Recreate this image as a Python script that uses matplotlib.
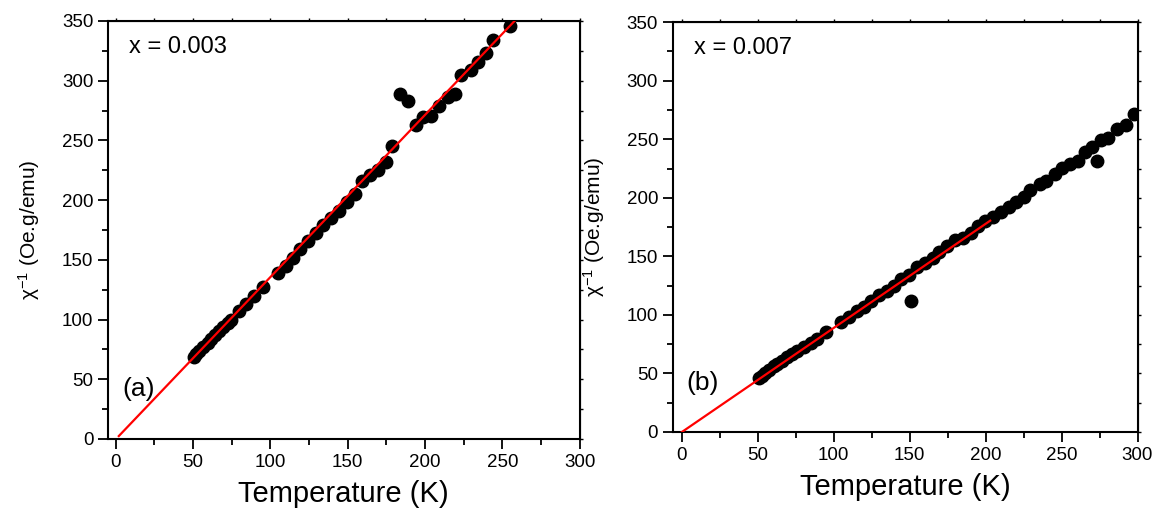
import matplotlib.pyplot as plt
import numpy as np

plt.rcParams['font.family'] = ['Liberation Sans', 'DejaVu Sans']
plt.rcParams['mathtext.default'] = 'regular'

# panel (a): x = 0.003
temp_a = [50.6, 52, 54, 56.4, 59.7, 61.8, 64, 67, 69.3, 72.5, 74.7, 80, 84.3, 89.7, 95,
          105, 110, 114.4, 119.3, 124.5, 129.4, 134, 139.5, 144.4, 149.4, 154.5, 159.4,
          164.4, 169.5, 174.5, 178.8, 184, 189, 194.2, 199, 204, 209, 214.6, 219.5, 223,
          229.8, 234.5, 239.3, 243.8, 255]
chi_a = [68.7, 71, 74, 77, 80.7, 83.4, 86.8, 90.4, 93.8, 97.4, 100, 107, 113, 119.7, 127,
         139, 145, 151.5, 159, 166, 172.8, 179, 185, 191, 198.4, 205.4, 215.7,
         220.8, 225, 232, 245, 289, 282.7, 262.6, 269.6, 270, 278.8, 286, 288.6, 304.5,
         308.7, 316, 323, 333.8, 345.8]
fit_a = {'slope': 1.358, 'intercept': -0.3, 'tmin': 2, 'tmax': 258}

# panel (b): x = 0.007
temp_b = [50.7, 52.9, 55, 57.3, 60.6, 62.8, 66, 69.4, 72.7, 76, 80.4, 84.8, 89.2, 94.7,
          105, 110, 115, 119.6, 124.4, 130, 135, 139.4, 144.3, 149.8, 150.9, 154.8, 160,
          165.2, 169.6, 174.7, 179.5, 185, 190.5, 195, 199.8, 204.8, 210.4, 215.4, 220.3,
          225.3, 229.5, 235.7, 240, 245.6, 250, 255.5, 260.6, 265.4, 270.3, 273.6, 276,
          280.8, 286.3, 292.3, 298]
chi_b = [46, 48, 50.3, 53, 56, 58.3, 61, 64, 66.5, 68.8, 72.2, 76, 79.3, 85.3,
         93.8, 98, 103, 107, 111.5, 117, 120.6, 125, 130.8, 134.2, 112, 141.3, 144,
         148.4, 153.3, 159, 164, 166, 170, 176.3, 180.5, 184, 188.2, 192.5, 196.8,
         201, 206.7, 211.5, 214.4, 220.4, 225.2, 229, 231.5, 239, 243.6, 231.5, 249,
         251.3, 259, 262.4, 272]
fit_b = {'slope': 0.889, 'intercept': 0.0, 'tmin': 0, 'tmax': 203}

panels = [
    dict(T=temp_a, chi=chi_a, fit=fit_a, conc='x = 0.003', tag='(a)',
         rect=[0.0934, 0.141, 0.408, 0.818], xlim=(-5, 300)),
    dict(T=temp_b, chi=chi_b, fit=fit_b, conc='x = 0.007', tag='(b)',
         rect=[0.582, 0.1546, 0.402, 0.802], xlim=(-6, 300)),
]

fig = plt.figure(figsize=(11.56, 5.11), dpi=100)

for p in panels:
    ax = fig.add_axes(p['rect'])
    f = p['fit']
    tt = np.array([f['tmin'], f['tmax']])
    ax.plot(tt, f['slope'] * tt + f['intercept'], color='#ff0000', lw=1.6, zorder=3)
    ax.plot(p['T'], p['chi'], 'o', color='black', ms=9, zorder=2)

    ax.set_xlim(*p['xlim'])
    ax.set_ylim(0, 350)
    ax.set_xticks(np.arange(0, 301, 50))
    ax.set_xticks(np.arange(25, 300, 25), minor=True)
    ax.set_yticks(np.arange(0, 351, 50))
    ax.set_yticks(np.arange(25, 350, 50), minor=True)
    ax.tick_params(which='major', direction='out', length=7, width=1.3, labelsize=13.5)
    ax.tick_params(which='minor', direction='out', length=4, width=1.3)
    for s in ax.spines.values():
        s.set_linewidth(1.5)

    top = ax.secondary_xaxis('top')
    top.set_xticks(np.arange(0, 301, 50))
    top.set_xticks(np.arange(25, 300, 25), minor=True)
    top.tick_params(which='both', direction='out', length=2.5, width=1.0, labeltop=False)
    right = ax.secondary_yaxis('right')
    right.set_yticks(np.arange(0, 351, 50))
    right.set_yticks(np.arange(25, 350, 50), minor=True)
    right.tick_params(which='both', direction='out', length=2.5, width=1.0, labelright=False)

    ax.set_xlabel('Temperature (K)', fontsize=21, labelpad=7)
    ax.set_ylabel('χ$^{-1}$ (Oe.g/emu)', fontsize=15, labelpad=14)
    ax.text(0.045, 0.965, p['conc'], transform=ax.transAxes, fontsize=17, va='top', ha='left')
    ax.text(0.03, 0.12, p['tag'], transform=ax.transAxes, fontsize=19, va='center', ha='left')

fig.savefig('out.png', dpi=100)
